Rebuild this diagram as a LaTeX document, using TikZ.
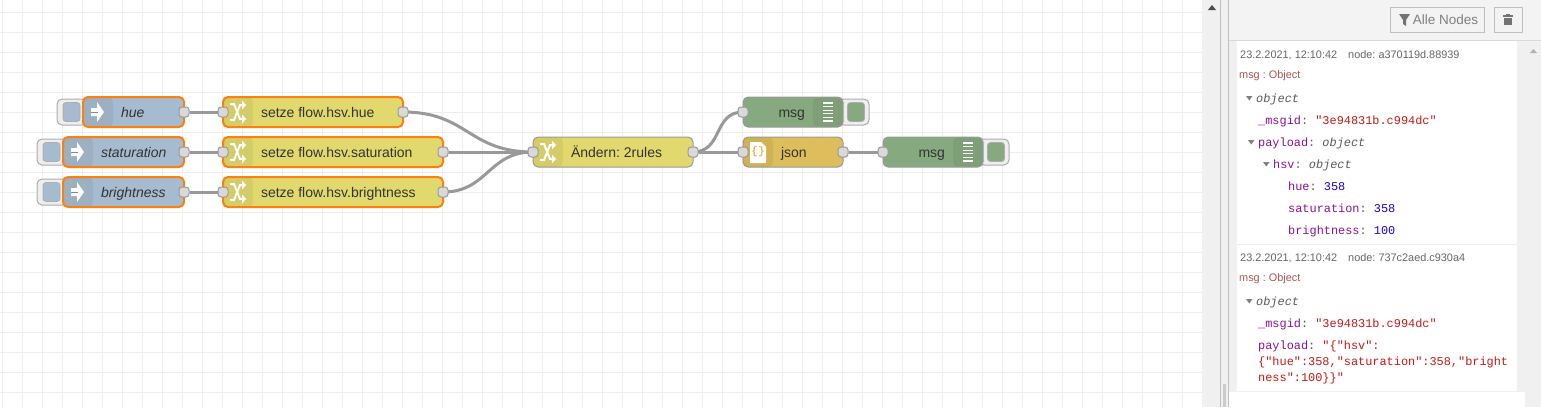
\documentclass[tikz,border=0pt]{standalone}
\usepackage{fontspec}
\setmainfont{Liberation Sans}
\setmonofont{Liberation Mono}
\usetikzlibrary{backgrounds}
\frenchspacing

\definecolor{injectcol}{HTML}{A6BBCF}
\definecolor{changecol}{HTML}{E2D96E}
\definecolor{debugcol}{HTML}{87A980}
\definecolor{jsoncol}{HTML}{DEBD5C}
\definecolor{selectcol}{HTML}{FF7F0E}
\definecolor{wirecol}{HTML}{999999}
\definecolor{gridcol}{HTML}{EEEEEE}
\definecolor{panelcol}{HTML}{F3F3F3}
\definecolor{trackcol}{HTML}{F0F0F0}
\definecolor{keycol}{HTML}{881391}
\definecolor{strcol}{HTML}{C41A16}
\definecolor{numcol}{HTML}{1C00CF}
\definecolor{metacol}{HTML}{666666}
\definecolor{msgcol}{HTML}{AA5555}

\tikzset{
  flowbox/.style 2 args={draw=wirecol, line width=1pt, fill=#2, rounded corners=5pt, anchor=west, outer sep=0pt,
    minimum height=30pt, minimum width=#1pt, text width=#1pt, inner sep=0pt,
    text height=14pt, text depth=3pt, text=black!80, font=\fontsize{14}{16}\selectfont},
  stripleft/.style={align=flush left, execute at begin node={\hspace*{38pt}},
    path picture={\fill[black,opacity=.06] (path picture bounding box.north west) rectangle ++(30,30);}},
  stripright/.style={align=flush right, execute at end node={\hspace*{38pt}},
    path picture={\fill[black,opacity=.06] (path picture bounding box.north east) rectangle ++(-30,30);}},
  picked/.style={draw=selectcol, line width=2pt},
  port/.style={draw=wirecol, line width=1pt, fill=black!15, rounded corners=3pt, minimum size=10pt, inner sep=0pt},
  wire/.style={draw=wirecol, line width=3pt},
  outerbtn/.style={draw=wirecol!80, line width=1pt, fill=gridcol, rounded corners=5pt, minimum width=30pt, minimum height=26pt, inner sep=0pt},
  innerbtn/.style={draw=wirecol!80, line width=.8pt, fill=#1, rounded corners=3pt, minimum width=17pt, minimum height=19pt, inner sep=0pt},
  toolbtn/.style={draw=black!25, line width=1pt, fill=panelcol, minimum height=25pt, inner sep=0pt, text=black!50, font=\fontsize{13.5}{16}\selectfont},
  meta/.style={anchor=base west, inner sep=0pt, text=metacol, font=\fontsize{10.9}{12}\selectfont},
  msgline/.style={anchor=base west, inner sep=0pt, text=msgcol, font=\fontsize{10.9}{12}\selectfont},
  tree/.style={anchor=base west, inner sep=0pt, text=black!65, font=\ttfamily\fontsize{11.9}{14}\selectfont},
  fold/.style={fill=black!50},
  pics/injecticon/.style={code={
    \fill[white] (8,-4) -- (14,-4) -- (14,-10) -- (21,0) -- (14,10) -- (14,4) -- (8,4) -- cycle;
    \draw[injectcol!75!black, line width=1pt] (8,0) -- (15,0);
  }},
  pics/changeicon/.style={code={
    \draw[white, line width=2pt] (7,-8) -- (11,-8) -- (17,7) -- (20,7);
    \draw[white, line width=2pt] (7,8) -- (11,8) -- (17,-7) -- (20,-7);
    \fill[white] (19,-11.5) -- (23,-7) -- (19,-2.5) -- cycle;
    \fill[white] (19,2.5) -- (23,7) -- (19,11.5) -- cycle;
  }},
  pics/debugicon/.style={code={
    \draw[white, line width=1.3pt] (-20,-9) -- (-10,-9) (-20,-5.4) -- (-10,-5.4) (-20,-1.8) -- (-10,-1.8)
      (-20,1.8) -- (-10,1.8) (-20,5.4) -- (-10,5.4) (-20,9) -- (-10,9);
  }},
}

\begin{document}
\begin{tikzpicture}[x=1pt, y=-1pt]
\useasboundingbox (0,0) rectangle (1541,407);

% canvas
\begin{scope}[on background layer]
\fill[white] (0,0) rectangle (1541,407);
\draw[gridcol, line width=1pt, y=1pt, xstep=20, ystep=20, shift={(2.5,-12.5)}] (-2.5,-395) grid (1200,12.5);
\end{scope}

% left column
\node[outerbtn] (huebtn) at (72,112) {};
\node[innerbtn=injectcol] (huepush) at (71.5,112) {};
\node[outerbtn] (satbtn) at (52,152) {};
\node[innerbtn=injectcol] (satpush) at (51.5,152) {};
\node[outerbtn] (brightbtn) at (52,192) {};
\node[innerbtn=injectcol] (brightpush) at (51.5,192) {};

\node[flowbox={101}{injectcol}, stripleft, picked] (hue) at (83,112) {\textit{hue}};
\node[flowbox={121}{injectcol}, stripleft, picked] (sat) at (63,152) {\textit{staturation}};
\node[flowbox={121}{injectcol}, stripleft, picked] (bright) at (63,192) {\textit{brightness}};
\pic at (hue.west) {injecticon};
\pic at (sat.west) {injecticon};
\pic at (bright.west) {injecticon};

\node[flowbox={180}{changecol}, stripleft, picked] (sethue) at (223,112) {setze flow.hsv.hue};
\node[flowbox={220}{changecol}, stripleft, picked] (setsat) at (223,152) {setze flow.hsv.saturation};
\node[flowbox={220}{changecol}, stripleft, picked] (setbright) at (223,192) {setze flow.hsv.brightness};
\pic at (sethue.west) {changeicon};
\pic at (setsat.west) {changeicon};
\pic at (setbright.west) {changeicon};

% right column
\node[flowbox={160}{changecol}, stripleft] (rules) at (533,152) {Ändern: 2rules};
\pic at (rules.west) {changeicon};

\node[outerbtn] (msgabtn) at (854,112) {};
\node[innerbtn=debugcol] (msgapush) at (856,112) {};
\node[outerbtn] (msgbbtn) at (994,152) {};
\node[innerbtn=debugcol] (msgbpush) at (996,152) {};

\node[flowbox={100}{debugcol}, stripright] (msga) at (743,112) {msg};
\node[flowbox={100}{jsoncol}, stripleft] (json) at (743,152) {json};
\node[flowbox={100}{debugcol}, stripright] (msgb) at (883,152) {msg};
\pic at (msga.east) {debugicon};
\pic at (msgb.east) {debugicon};

\fill[white] (750,142) -- (761,142) -- (766,147) -- (766,163) -- (750,163) -- cycle;
\node[inner sep=0pt, text=jsoncol, font=\ttfamily\bfseries\fontsize{11}{12}\selectfont] (jsonbrace) at (758,152) {\{\}};

% ports
\node[port] (hueout) at (hue.east) {};
\node[port] (satout) at (sat.east) {};
\node[port] (brightout) at (bright.east) {};
\node[port] (huein) at (sethue.west) {};
\node[port] (satin) at (setsat.west) {};
\node[port] (brightin) at (setbright.west) {};
\node[port] (sethueout) at (sethue.east) {};
\node[port] (setsatout) at (setsat.east) {};
\node[port] (setbrightout) at (setbright.east) {};
\node[port] (rulesin) at (rules.west) {};
\node[port] (rulesout) at (rules.east) {};
\node[port] (msgain) at (msga.west) {};
\node[port] (jsonin) at (json.west) {};
\node[port] (jsonout) at (json.east) {};
\node[port] (msgbin) at (msgb.west) {};

\begin{scope}[on background layer]
\draw[wire] (hueout) -- (huein);
\draw[wire] (satout) -- (satin);
\draw[wire] (brightout) -- (brightin);
\draw[wire] (sethueout.center) .. controls +(65,0) and +(-65,0) .. (rulesin.center);
\draw[wire] (setsatout) -- (rulesin);
\draw[wire] (setbrightout.center) .. controls +(45,0) and +(-45,0) .. (rulesin.center);
\draw[wire] (rulesout.center) .. controls +(30,0) and +(-30,0) .. (msgain.center);
\draw[wire] (rulesout) -- (jsonin);
\draw[wire] (jsonout) -- (msgbin);
\end{scope}

% sidebar
\fill[trackcol] (1202,0) rectangle (1541,407);
\fill[panelcol] (1229,0) rectangle (1541,40);
\fill[white] (1237,41) rectangle (1517,391);
\fill[white] (1229,392) rectangle (1525,407);
\draw[black!25, line width=1pt] (1220.5,0) -- (1220.5,407);
\draw[black!25, line width=1pt] (1228.5,0) -- (1228.5,407);
\draw[black!15, line width=1pt] (1229,40.5) -- (1541,40.5);
\draw[gridcol, line width=1pt] (1237,244.5) -- (1517,244.5);
\fill[black!20] (1223,384) rectangle (1226,407);
\fill[black!70] (1208,10) -- (1212,5) -- (1216,10) -- cycle;
\fill[black!30] (1530,53) -- (1533.5,49) -- (1537,53) -- cycle;

\node[toolbtn, minimum width=94pt] (allnodes) at (1437,19.5) {\hspace*{17pt}Alle Nodes};
\fill[black!55] (1399,14) -- (1410,14) -- (1406,20) -- (1406,26) -- (1403,24) -- (1403,20) -- cycle;
\node[toolbtn, minimum width=28pt] (trash) at (1508,19.5) {};
\fill[black!55] (1503,15) rectangle (1513,16.5);
\fill[black!55] (1506,13.5) rectangle (1510,15);
\fill[black!55] (1504,17.5) rectangle (1512,25);

% first message
\node[meta] (dateone) at (1240,58) {23.2.2021, 12:10:42};
\node[meta] (idone) at (1348,58) {node: a370119d.88939};
\node[msgline] (msgone) at (1239,78) {msg : Object};
\fill[fold] (1246,96) -- (1252.5,96) -- (1249.2,100.5) -- cycle;
\node[tree] (objone) at (1256,102) {\textit{object}};
\node[tree] (idkeyone) at (1258,124) {\textcolor{keycol}{\_msgid}: \textcolor{strcol}{"3e94831b.c994dc"}};
\fill[fold] (1248,140) -- (1254.5,140) -- (1251.2,144.5) -- cycle;
\node[tree] (payone) at (1258,146) {\textcolor{keycol}{payload}: \textit{object}};
\fill[fold] (1263,162) -- (1269.5,162) -- (1266.2,166.5) -- cycle;
\node[tree] (hsvone) at (1273,168) {\textcolor{keycol}{hsv}: \textit{object}};
\node[tree] (hueval) at (1288,190) {\textcolor{keycol}{hue}: \textcolor{numcol}{358}};
\node[tree] (satval) at (1288,212) {\textcolor{keycol}{saturation}: \textcolor{numcol}{358}};
\node[tree] (brightval) at (1288,234) {\textcolor{keycol}{brightness}: \textcolor{numcol}{100}};

% second message
\node[meta] (datetwo) at (1240,261) {23.2.2021, 12:10:42};
\node[meta] (idtwo) at (1348,261) {node: 737c2aed.c930a4};
\node[msgline] (msgtwo) at (1239,281) {msg : Object};
\fill[fold] (1246,299) -- (1252.5,299) -- (1249.2,303.5) -- cycle;
\node[tree] (objtwo) at (1256,305) {\textit{object}};
\node[tree] (idkeytwo) at (1258,327) {\textcolor{keycol}{\_msgid}: \textcolor{strcol}{"3e94831b.c994dc"}};
\node[tree] (paytwo) at (1258,349) {\textcolor{keycol}{payload}: \textcolor{strcol}{"\{"hsv":}};
\node[tree, text=strcol] (paylinea) at (1258,365) {\{"hue":358,"saturation":358,"bright};
\node[tree, text=strcol] (paylineb) at (1258,381) {ness":100\}\}"};

\end{tikzpicture}
\end{document}
